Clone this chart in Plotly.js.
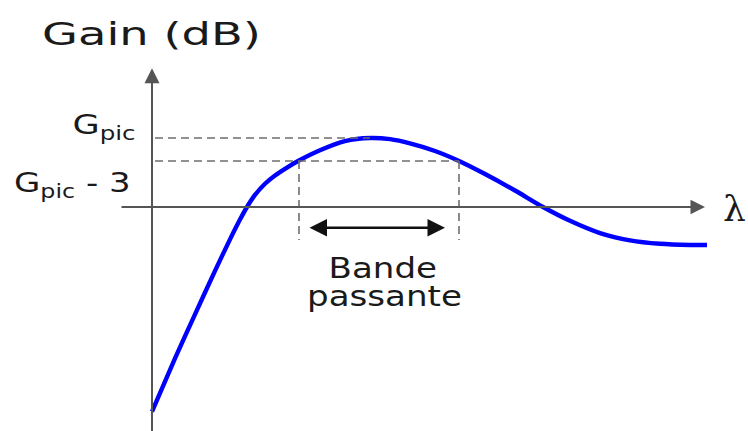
<!DOCTYPE html>
<html>
<head>
<meta charset="utf-8">
<script src="https://cdn.plot.ly/plotly-3.0.1.min.js"></script>
<style>
html, body { margin: 0; padding: 0; background: #fff; }
#chart { width: 748px; height: 431px; }
/* the reference artwork is stretched horizontally: widen the label glyphs */
.annotation-text { transform-box: fill-box; transform-origin: 50% 50%; }
.annotation[data-index="3"] .annotation-text { transform: scaleX(1.45); }
.annotation[data-index="4"] .annotation-text { transform-origin: 100% 50%; transform: scaleX(1.3); }
.annotation[data-index="5"] .annotation-text { transform-origin: 100% 50%; transform: scaleX(1.26); }
.annotation[data-index="7"] .annotation-text,
.annotation[data-index="8"] .annotation-text { transform: scaleX(1.24); }
</style>
</head>
<body>
<div id="chart"></div>
<script>
// Wavelength (arbitrary units) and gain (dB)
const lambda = [0, 2.3, 4.3, 6.3, 7.8, 8.8, 9.5, 10.3, 11.3, 12.3, 13.5, 14.7, 16.8, 19.3, 21.8, 23.8, 25.8, 28.3, 30.7, 33.3, 36.3, 39.1, 41.8, 44.8, 47.8, 50.8, 53.8, 55.5];
const gain   = [-26.7, -19.75, -14.0, -8.33, -4.22, -1.64, 0.0, 1.57, 3.03, 4.12, 5.15, 6.07, 7.41, 8.6, 9.0, 8.85, 8.3, 7.3, 6.0, 4.3, 2.15, 0.0, -1.8, -3.4, -4.35, -4.8, -4.95, -4.95];

const gPic = 9;          // peak gain
const gPic3 = gPic - 3;  // -3 dB level
const lambdaPeak = 21.8;
const lambdaLow = 14.7;  // lower -3 dB crossing
const lambdaHigh = 30.7; // upper -3 dB crossing

const labelPeak = "G<sub>pic</sub>";
const labelPeak3 = "G<sub>pic</sub> - 3";
const yTitle = "Gain (dB)";
const xTitle = "λ";
const bandLine1 = "Bande";
const bandLine2 = "passante";

const axisColor = "#555555";
const dashColor = "#6e6e6e";
const textColor = "#1a1a1a";
const sans = "DejaVu Sans, Liberation Sans, Arial, sans-serif";

const traces = [
  { x: lambda, y: gain, mode: "lines", type: "scatter",
    line: { color: "#0000ff", width: 4.4, shape: "spline", smoothing: 0.7 },
    hoverinfo: "skip" }
];

const dashLine = { color: dashColor, width: 1.6, dash: "8px,5px" };
const shapes = [
  // dashed reference levels
  { type: "line", xref: "x", yref: "y", x0: 0.3, x1: lambdaPeak, y0: gPic, y1: gPic, line: dashLine },
  { type: "line", xref: "x", yref: "y", x0: 0.3, x1: lambdaHigh, y0: gPic3, y1: gPic3, line: dashLine },
  // vertical dashed bandwidth limits
  { type: "line", xref: "x", yref: "y", x0: lambdaLow, x1: lambdaLow, y0: gPic3, y1: -4.3, line: dashLine },
  { type: "line", xref: "x", yref: "y", x0: lambdaHigh, x1: lambdaHigh, y0: gPic3, y1: -4.3, line: dashLine }
];

const annotations = [
  // 0: vertical axis with arrow
  { x: 0, y: 18.1, ax: 0, ay: -29.5, xref: "x", yref: "y", axref: "x", ayref: "y",
    showarrow: true, arrowhead: 2, arrowsize: 1.5, arrowwidth: 2, arrowcolor: axisColor, text: "" },
  // 1: horizontal axis with arrow
  { x: 55.3, y: 0, ax: -3.2, ay: 0, xref: "x", yref: "y", axref: "x", ayref: "y",
    showarrow: true, arrowhead: 2, arrowsize: 1.45, arrowwidth: 2, arrowcolor: axisColor, text: "" },
  // 2: bandwidth double arrow
  { x: 29.3, y: -2.7, ax: 15.6, ay: -2.7, xref: "x", yref: "y", axref: "x", ayref: "y",
    showarrow: true, arrowhead: 2, startarrowhead: 2, arrowside: "end+start",
    arrowsize: 1.4, startarrowsize: 1.4, arrowwidth: 2.5, arrowcolor: "#111", text: "" },
  // 3..8: texts
  { x: -0.1, y: 22.6, xref: "x", yref: "y", text: yTitle, showarrow: false,
    xanchor: "center", yanchor: "middle", font: { family: sans, size: 32, color: textColor } },
  { x: -1.4, y: 10.5, xref: "x", yref: "y", text: labelPeak, showarrow: false,
    xanchor: "right", yanchor: "middle", font: { family: sans, size: 27, color: textColor } },
  { x: -1.9, y: 2.9, xref: "x", yref: "y", text: labelPeak3, showarrow: false,
    xanchor: "right", yanchor: "middle", font: { family: sans, size: 27, color: textColor } },
  { x: 58.2, y: -0.2, xref: "x", yref: "y", text: xTitle, showarrow: false,
    xanchor: "center", yanchor: "middle", font: { family: "DejaVu Serif, Liberation Serif, serif", size: 36, color: textColor } },
  { x: 23.1, y: -7.9, xref: "x", yref: "y", text: bandLine1, showarrow: false,
    xanchor: "center", yanchor: "middle", font: { family: sans, size: 27.5, color: textColor } },
  { x: 23.2, y: -11.6, xref: "x", yref: "y", text: bandLine2, showarrow: false,
    xanchor: "center", yanchor: "middle", font: { family: sans, size: 27.5, color: textColor } }
];

const layout = {
  width: 748, height: 431,
  margin: { l: 0, r: 0, t: 0, b: 0, pad: 0 },
  paper_bgcolor: "#ffffff", plot_bgcolor: "#ffffff",
  showlegend: false,
  xaxis: { range: [-15.2, 59.6], visible: false, fixedrange: true },
  yaxis: { range: [-29.22, 27.0], visible: false, fixedrange: true },
  shapes: shapes,
  annotations: annotations
};

Plotly.newPlot("chart", traces, layout, { staticPlot: true, displayModeBar: false });
</script>
</body>
</html>
